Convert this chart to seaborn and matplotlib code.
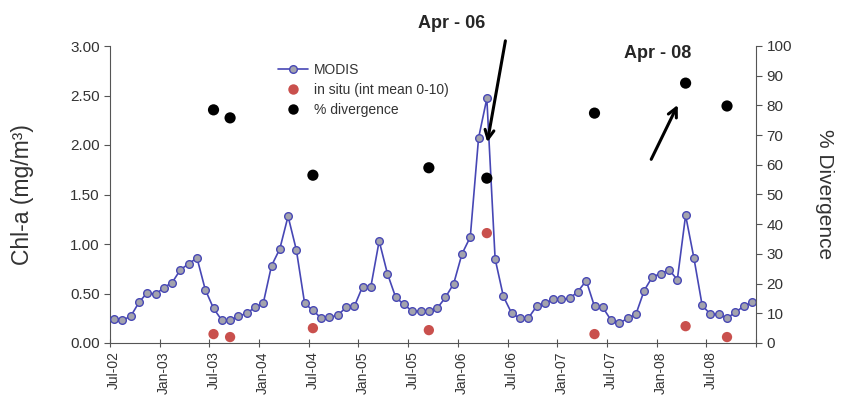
import numpy as np
import pandas as pd
import matplotlib
matplotlib.use("Agg")
import matplotlib.pyplot as plt
from matplotlib.lines import Line2D
import seaborn as sns

sns.set_style("ticks")
plt.rcParams['font.family'] = ['Liberation Sans', 'DejaVu Sans']

# monthly MODIS chl-a, Jul-02 .. Dec-08
months = pd.date_range("2002-07-01", periods=78, freq="MS")
modis = [0.24, 0.23, 0.27, 0.41, 0.51, 0.49, 0.56, 0.61, 0.74, 0.80, 0.86, 0.54,
         0.35, 0.23, 0.23, 0.27, 0.30, 0.36, 0.40, 0.78, 0.95, 1.28, 0.94, 0.40,
         0.33, 0.25, 0.26, 0.28, 0.36, 0.37, 0.57, 0.57, 1.03, 0.70, 0.46, 0.39,
         0.32, 0.32, 0.32, 0.35, 0.46, 0.60, 0.90, 1.07, 2.07, 2.47, 0.85, 0.47,
         0.30, 0.25, 0.25, 0.37, 0.40, 0.44, 0.44, 0.45, 0.52, 0.63, 0.37, 0.36,
         0.23, 0.20, 0.25, 0.29, 0.53, 0.67, 0.70, 0.74, 0.64, 1.29, 0.86, 0.38,
         0.29, 0.29, 0.25, 0.31, 0.37, 0.41]

# in situ samples and % divergence
sample_months = ["2003-07", "2003-09", "2004-07", "2005-09",
                 "2006-04", "2007-05", "2008-04", "2008-09"]
in_situ = [0.09, 0.06, 0.15, 0.13, 1.11, 0.09, 0.17, 0.06]
divergence = [78.5, 75.8, 56.5, 59.0, 55.5, 77.4, 87.5, 79.8]

tick_labels = ["Jul-02", "Jan-03", "Jul-03", "Jan-04", "Jul-04", "Jan-05", "Jul-05",
               "Jan-06", "Jul-06", "Jan-07", "Jul-07", "Jan-08", "Jul-08"]

month_str = list(months.strftime("%Y-%m"))
df_modis = pd.DataFrame({"pos": np.arange(len(modis)), "chl": modis})
df_site = pd.DataFrame({"pos": [month_str.index(m) for m in sample_months],
                        "chl": in_situ, "div": divergence})

blue = "#4747B5"
red = "#C9504D"
txt = "#333333"

fig = plt.figure(figsize=(8.41, 3.96), dpi=100)
ax = fig.add_axes([110 / 841, 1 - 343 / 396, (756 - 110) / 841, (343 - 46) / 396])
ax2 = ax.twinx()

sns.lineplot(data=df_modis, x="pos", y="chl", ax=ax, color=blue, lw=1.2,
             marker="o", markersize=5.5, markerfacecolor="#A3A3AD",
             markeredgecolor=blue, markeredgewidth=1.0, zorder=3)
sns.scatterplot(data=df_site, x="pos", y="chl", ax=ax, color=red, s=55,
                edgecolor="none", zorder=4)
sns.scatterplot(data=df_site, x="pos", y="div", ax=ax2, color="black", s=65,
                edgecolor="none", zorder=4)

ax.set_xlim(-0.5, 77.5)
ax.set_ylim(0, 3)
ax2.set_ylim(0, 100)
ax.set_yticks(np.arange(0, 3.01, 0.5))
ax.set_yticklabels([f"{v:.2f}" for v in np.arange(0, 3.01, 0.5)])
ax2.set_yticks(np.arange(0, 101, 10))

# tick marks at category boundaries, labels at category centres
ax.set_xticks(np.arange(-0.5, 78, 6))
ax.set_xticklabels([])
ax.set_xticks(np.arange(0, 78, 6), minor=True)
ax.set_xticklabels(tick_labels, minor=True, rotation=90)
ax.tick_params(axis="x", which="major", direction="inout", length=6, color="#555555")
ax.tick_params(axis="x", which="minor", length=0, labelsize=10, labelcolor=txt, pad=6)
ax.tick_params(axis="y", direction="out", length=4, labelsize=11, labelcolor=txt, color="#555555")
ax2.tick_params(axis="y", direction="out", length=4, labelsize=11, labelcolor=txt, color="#555555")

ax.set_xlabel("")
ax.set_ylabel("Chl-a (mg/m³)", fontsize=16.5, color=txt, labelpad=26)
ax2.set_ylabel("% Divergence", fontsize=15, color=txt, rotation=270, labelpad=30)

for s in ["top", "right"]:
    ax.spines[s].set_visible(False)
for s in ["top", "left", "bottom"]:
    ax2.spines[s].set_visible(False)
for a in (ax, ax2):
    for s in a.spines.values():
        s.set_color("#555555")

handles = [
    Line2D([], [], color=blue, lw=1.2, marker="o", markersize=5.5,
           markerfacecolor="#A3A3AD", markeredgecolor=blue),
    Line2D([], [], ls="none", marker="o", markersize=7.5, color=red, markeredgecolor="none"),
    Line2D([], [], ls="none", marker="o", markersize=7.5, color="black", markeredgecolor="none"),
]
ax2.legend(handles, ["MODIS", "in situ (int mean 0-10)", "% divergence"],
           loc="upper left", bbox_to_anchor=(265 / 841, 1 - 50 / 396),
           bbox_transform=fig.transFigure, frameon=False, fontsize=10,
           handlelength=2.2, labelspacing=0.45, handletextpad=0.4, labelcolor=txt)

arrow = dict(arrowstyle="->", lw=2.2, color="black", mutation_scale=16)
ax.annotate("", xy=(45.0, 2.0), xytext=(47.3, 3.08), arrowprops=arrow,
            annotation_clip=False)
ax.annotate("", xy=(68.2, 2.43), xytext=(64.7, 1.83), arrowprops=arrow,
            annotation_clip=False)
ax.text(40.8, 3.23, "Apr - 06", fontsize=13, fontweight="bold", ha="center", va="center")
ax.text(65.6, 2.92, "Apr - 08", fontsize=13, fontweight="bold", ha="center", va="center")

fig.savefig("out.png", dpi=100)
